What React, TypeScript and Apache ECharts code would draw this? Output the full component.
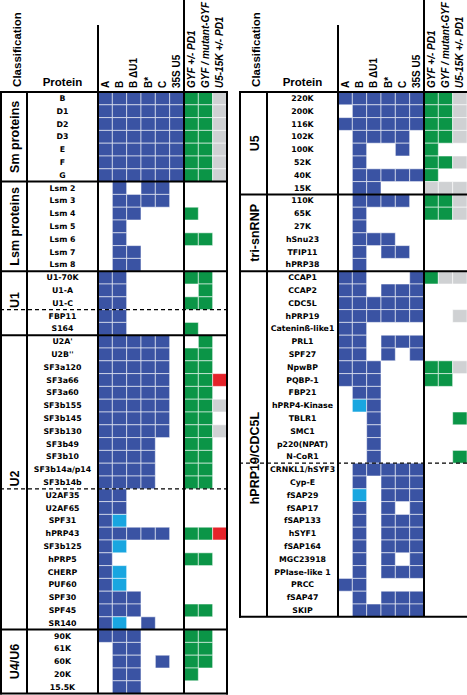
import React, { useEffect, useRef } from "react";
import * as echarts from "echarts";

// ---- Column headers (assays) ----
const assayColumns = ["A", "B", "B ΔU1", "B*", "C", "35S U5", "GYF +/- PD1", "GYF / mutant-GYF", "U5-15K +/- PD1"];
const italicFrom = 6;

// Cell codes per row, one char per column: b = dark blue, c = light blue, g = green, x = grey, r = red, . = empty
// ---- Left panel ----
const smProteins = ["B", "D1", "D2", "D3", "E", "F", "G"];
const smCells = ["bbbbbbggx", "bbbbbbggx", "bbbbbbggx", "bbbbbbggx", "bbbbbbggx", "bbbbbbggx", "bbbbbbggx"];

const lsmProteins = ["Lsm 2", "Lsm 3", "Lsm 4", "Lsm 5", "Lsm 6", "Lsm 7", "Lsm 8"];
const lsmCells = [".b.bb....", ".bbbb....", ".bb...g..", ".b.......", ".b....gg.", ".bb......", ".bb......"];

const u1Proteins = ["U1-70K", "U1-A", "U1-C", "FBP11", "S164"];
const u1Cells = ["bb....gg.", "bb.....g.", "bb....gg.", "bb.......", "bb....g.."];

const u2Proteins = [
  "U2A'", "U2B''", "SF3a120", "SF3a66", "SF3a60", "SF3b155", "SF3b145", "SF3b130", "SF3b49", "SF3b10",
  "SF3b14a/p14", "SF3b14b", "U2AF35", "U2AF65", "SPF31", "hPRP43", "SF3b125", "hPRP5", "CHERP", "PUF60",
  "SPF30", "SPF45", "SR140",
];
const u2Cells = [
  "bbbbb..g.", "bbbbb.gg.", "bbbbb.gg.", "bbbbb.ggr", "bbbbb.gg.", "bbbbb.ggx", "bbbbb.gg.", "bbbbb.ggx",
  "bbbb..gg.", "bbbb..gg.", "bbbb..gg.", "bbbb..gg.", "bb.......", "bb.......", "bc.......", "bbbbb.ggr",
  "bc.......", "b.....gg.", "bc.......", "bc.......", "bbb......", "bbb...gg.", "bc.b.....",
];

const u46Proteins = ["90K", "61K", "60K", "20K", "15.5K"];
const u46Cells = ["bbb...gg.", ".bb...gg.", ".bb.b.gg.", ".bb...g..", ".bb......"];

// ---- Right panel ----
const u5Proteins = ["220K", "200K", "116K", "102K", "100K", "52K", "40K", "15K"];
const u5Cells = ["bbbbbbggx", ".bbbbbggx", "bbbbbbggx", ".bbbb.ggx", ".b..b.g..", ".b....ggx", ".bbbbbg..", ".bb...xxx"];

const triProteins = ["110K", "65K", "27K", "hSnu23", "TFIP11", "hPRP38"];
const triCells = [".bbbb.ggx", ".b....ggx", ".b.......", ".bbb.....", ".b.bb....", ".b......."];

const prp19Proteins = [
  "CCAP1", "CCAP2", "CDC5L", "hPRP19", "Cateninß-like1", "PRL1", "SPF27", "NpwBP", "PQBP-1", "FBP21",
  "hPRP4-Kinase", "TBLR1", "SMC1", "p220(NPAT)", "N-CoR1",
  "CRNKL1/hSYF3", "Cyp-E", "fSAP29", "fSAP17", "fSAP133", "hSYF1", "fSAP164", "MGC23918", "PPIase-like 1",
  "PRCC", "fSAP47", "SKIP",
];
const prp19Cells = [
  "bb...bgxx", "bb.bbb...", "bbbbbb...", "bbbbbb..x", "bb.......", "bb.bbb...", "bb.b.b...", "bbb...ggx",
  "bbb...gg.", ".bb......", ".cb......", "..b.....g", "..b......", "..b......", "..b.....g",
  ".bbbbb...", ".b.bbb...", ".c.bbb...", ".b.b.b...", ".b.bbb...", ".b.bbb...", ".b.bbb...", ".b.b.b...",
  ".b.bbb...", "bb.......", ".b.bbb...", ".bbbbb...",
];

const CELL_COLORS: Record<string, string> = {
  b: "#3A53A3",
  c: "#19A6E0",
  g: "#0B9547",
  x: "#CFD1D3",
  r: "#E5232A",
};
const CODE_LIST = ["b", "c", "g", "x", "r"];

type Section = { name: string; proteins: string[]; cells: string[]; dashedAfter?: number; labelRow?: number };

const leftSections: Section[] = [
  { name: "Sm proteins", proteins: smProteins, cells: smCells },
  { name: "Lsm proteins", proteins: lsmProteins, cells: lsmCells },
  { name: "U1", proteins: u1Proteins, cells: u1Cells, dashedAfter: 3, labelRow: 2.25 },
  { name: "U2", proteins: u2Proteins, cells: u2Cells, dashedAfter: 12, labelRow: 11.2 },
  { name: "U4/U6", proteins: u46Proteins, cells: u46Cells },
];
const rightSections: Section[] = [
  { name: "U5", proteins: u5Proteins, cells: u5Cells },
  { name: "tri-snRNP", proteins: triProteins, cells: triCells },
  { name: "hPRP19/CDC5L", proteins: prp19Proteins, cells: prp19Cells, dashedAfter: 15, labelRow: 14.6 },
];

// ---- Layout ----
const W = 467;
const H = 695;
const TOP = 92;
const ROW_H = 12.8;
const GRID_W = 129;
const FONT = "'Liberation Sans', Arial, sans-serif";
const LABEL_FONT = "'DejaVu Sans', sans-serif";

const panels = [
  { x0: 1, xc: 27, xp: 98, xg: 184, xr: 227, drawRight: true, sections: leftSections },
  { x0: 240, xc: 267, xp: 338, xg: 424, xr: 467, drawRight: false, sections: rightSections },
];

const rotatedText = (text: string, x: number, y: number, fontSize: number, align: string, italic = false) => ({
  type: "text",
  z: 101,
  silent: true,
  x,
  y,
  rotation: Math.PI / 2,
  style: {
    text,
    x: 0,
    y: 0,
    fontSize,
    fontWeight: "bold",
    fontStyle: italic ? "italic" : "normal",
    fontFamily: FONT,
    fill: "#000",
    align,
    verticalAlign: "middle",
    textAlign: align,
    textVerticalAlign: "middle",
  },
});

function buildOption() {
  const grids: any[] = [];
  const xAxes: any[] = [];
  const yAxes: any[] = [];
  const series: any[] = [];
  const graphics: any[] = [];

  panels.forEach((p, pi) => {
    const proteins: string[] = [];
    const cells: string[] = [];
    p.sections.forEach((s) => {
      proteins.push(...s.proteins);
      cells.push(...s.cells);
    });
    const nRows = proteins.length;
    const bottom = TOP + nRows * ROW_H;

    grids.push({ left: p.xp, top: TOP, width: GRID_W, height: nRows * ROW_H });
    xAxes.push({
      type: "category",
      gridIndex: pi,
      position: "top",
      data: assayColumns,
      axisLine: { show: false },
      axisTick: { show: false },
      splitLine: { show: false },
      axisLabel: { show: false },
    });
    yAxes.push({
      type: "category",
      gridIndex: pi,
      inverse: true,
      data: proteins,
      axisLine: { show: false },
      axisTick: { show: false },
      splitLine: { show: false },
      axisLabel: {
        interval: 0,
        align: "center",
        margin: p.xp - (p.xc + p.xp) / 2,
        fontSize: 7.8,
        fontWeight: "bold",
        fontFamily: LABEL_FONT,
        color: "#000",
      },
    });

    const data: number[][] = [];
    cells.forEach((row, ri) => {
      for (let ci = 0; ci < row.length; ci++) {
        const code = row[ci];
        if (code !== ".") data.push([ci, ri, CODE_LIST.indexOf(code)]);
      }
    });
    series.push({
      type: "custom",
      xAxisIndex: pi,
      yAxisIndex: pi,
      silent: true,
      data,
      renderItem: (params: any, api: any) => {
        const c = api.coord([api.value(0), api.value(1)]);
        const s = api.size([1, 1]);
        const code = CODE_LIST[api.value(2)];
        return {
          type: "rect",
          shape: { x: c[0] - s[0] / 2, y: c[1] - s[1] / 2, width: s[0], height: s[1] },
          style: { fill: CELL_COLORS[code], stroke: "rgba(255,255,255,0.55)", lineWidth: 1 },
        };
      },
    });

    // table lines
    const solid = { stroke: "#000", lineWidth: 2 };
    const vline = (x: number, y1: number, y2: number) => ({
      type: "line",
      z: 100,
      silent: true,
      shape: { x1: x, y1, x2: x, y2 },
      style: solid,
    });
    const hline = (y: number, dashed: boolean) => ({
      type: "line",
      z: 100,
      silent: true,
      shape: { x1: p.x0 - 1, y1: y, x2: p.xr + (p.drawRight ? 1 : 0), y2: y },
      style: dashed ? { stroke: "#000", lineWidth: 1.2, lineDash: [4, 3] } : solid,
    });
    graphics.push(vline(p.x0, TOP, bottom + 1));
    graphics.push(vline(p.xc, TOP, bottom));
    graphics.push(vline(p.xp, 25, bottom));
    graphics.push(vline(p.xg, 0, bottom));
    if (p.drawRight) graphics.push(vline(p.xr, TOP, bottom + 1));
    graphics.push(hline(TOP, false));
    graphics.push(hline(bottom, false));

    let start = 0;
    const cx = (p.x0 + p.xc) / 2 + 1;
    p.sections.forEach((s, si) => {
      const n = s.proteins.length;
      if (si < p.sections.length - 1) graphics.push(hline(TOP + (start + n) * ROW_H, false));
      if (s.dashedAfter !== undefined) graphics.push(hline(TOP + (start + s.dashedAfter) * ROW_H, true));
      const lr = s.labelRow !== undefined ? s.labelRow : n / 2;
      graphics.push(rotatedText(s.name, cx, TOP + (start + lr) * ROW_H, 12.5, "center"));
      start += n;
    });

    // header texts
    graphics.push(rotatedText("Classification", (p.x0 + p.xc) / 2 + 2.5, 49.5, 11.5, "center"));
    graphics.push({
      type: "text",
      silent: true,
      x: (p.xc + p.xp) / 2,
      y: 81.5,
      style: {
        text: "Protein",
        x: 0,
        y: 0,
        fontSize: 11.5,
        fontWeight: "bold",
        fontFamily: FONT,
        fill: "#000",
        align: "center",
        verticalAlign: "middle",
        textAlign: "center",
        textVerticalAlign: "middle",
      },
    });
  });

  return {
    option: {
      animation: false,
      backgroundColor: "#fff",
      grid: grids,
      xAxis: xAxes,
      yAxis: yAxes,
      series,
      graphic: graphics,
    },
    graphics,
  };
}

export default function App() {
  const ref = useRef<HTMLDivElement>(null);
  useEffect(() => {
    if (!ref.current) return;
    const chart = echarts.init(ref.current, undefined, { renderer: "svg" });
    const { option, graphics } = buildOption();
    chart.setOption(option as any);
    // column headers placed at the category axis positions
    const headers: any[] = [];
    panels.forEach((p, pi) => {
      assayColumns.forEach((name, i) => {
        const x = chart.convertToPixel({ xAxisIndex: pi } as any, i) as unknown as number;
        headers.push(rotatedText(name, x, TOP - 4, 10, "left", i >= italicFrom));
      });
    });
    chart.setOption({ graphic: [...graphics, ...headers] } as any);
    return () => chart.dispose();
  }, []);
  return <div ref={ref} style={{ position: "fixed", left: 0, top: 0, width: W, height: H }} />;
}
